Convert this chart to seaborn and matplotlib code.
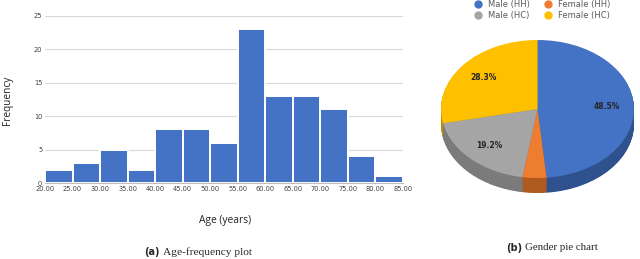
import numpy as np
import matplotlib
matplotlib.use("Agg")
import matplotlib.pyplot as plt
from matplotlib.lines import Line2D
import seaborn as sns

# Histogram data (age bins of 5 years)
bin_edges = [20, 25, 30, 35, 40, 45, 50, 55, 60, 65, 70, 75, 80, 85]
frequencies = [2, 3, 5, 2, 8, 8, 6, 23, 13, 13, 11, 4, 1]
y_ticks = [0, 5, 10, 15, 20, 25]

# Pie data
pie_labels = ["Male (HH)", "Female (HH)", "Male (HC)", "Female (HC)"]
pie_values = [48.5, 4.0, 19.2, 28.3]
pie_colors = ["#4472C4", "#ED7D31", "#A5A5A5", "#FFC000"]
side_colors = ["#2F528F", "#AE5A21", "#7B7B7B", "#BF9000"]

sns.set_style("white")

fig = plt.figure(figsize=(6.4, 2.59), dpi=100)

# ---- (a) histogram ----
ax = fig.add_axes([45 / 640, 1 - 183 / 259, 358 / 640, (183 - 15.7) / 259])
centers = [(a + b) / 2 for a, b in zip(bin_edges[:-1], bin_edges[1:])]
sns.histplot(x=centers, weights=frequencies, bins=bin_edges, color="#4472C4",
             alpha=1, edgecolor="white", linewidth=1.4, ax=ax)
ax.set_xlim(20, 85)
ax.set_ylim(0, 25)
ax.set_yticks(y_ticks)
ax.set_xticks(bin_edges)
ax.set_xticklabels([f"{v:.2f}" for v in bin_edges])
ax.tick_params(axis="both", labelsize=4.8, colors="#404040", length=0, pad=2)
ax.yaxis.grid(True, color="#d9d9d9", linewidth=0.8)
ax.set_axisbelow(True)
for s in ["top", "right", "left"]:
    ax.spines[s].set_visible(False)
ax.spines["bottom"].set_color("#bfbfbf")
ax.spines["bottom"].set_linewidth(0.8)
ax.set_xlabel("")
ax.set_ylabel("")
fig.text(8 / 640, 1 - 100 / 259, "Frequency", rotation=90, ha="center", va="center",
         fontsize=7.3, family="Open Sans", color="#222222")
fig.text(225 / 640, 1 - 220 / 259, "Age (years)", ha="center", va="center",
         fontsize=7.4, family="Open Sans", color="#222222")

# captions
fig.text(160 / 640, 1 - 252 / 259, "(a)", ha="right", va="center", fontsize=7,
         fontweight="bold", family="DejaVu Sans")
fig.text(163 / 640, 1 - 252 / 259, "Age-frequency plot", ha="left", va="center",
         fontsize=8.2, family="Liberation Serif")
fig.text(522 / 640, 1 - 248 / 259, "(b)", ha="right", va="center", fontsize=7,
         fontweight="bold", family="DejaVu Sans")
fig.text(525 / 640, 1 - 248 / 259, "Gender pie chart", ha="left", va="center",
         fontsize=7.8, family="Liberation Serif")

# ---- (b) pseudo-3D pie ----
depth = 15 / 69
pax = fig.add_axes([441 / 640, 1 - 193 / 259, 193 / 640, 69 * (2 + depth) / 259])
for off in np.linspace(depth, 0.01, 30):
    pax.pie(pie_values, colors=side_colors, startangle=90, counterclock=False,
            radius=1, center=(0, -off), wedgeprops=dict(linewidth=0))
pax.pie(pie_values, colors=pie_colors, startangle=90, counterclock=False,
        radius=1, center=(0, 0), wedgeprops=dict(linewidth=0),
        autopct=lambda p: f"{p:.1f}%" if p > 10 else "", pctdistance=0.72,
        textprops=dict(fontsize=5.5, fontweight="bold", color="#262626"))
pax.set_aspect("auto")
pax.set_xlim(-1, 1)
pax.set_ylim(-1 - depth, 1)
pax.axis("off")

handles = [Line2D([], [], marker="o", linestyle="", markersize=5, color=c) for c in pie_colors]
order = [0, 2, 1, 3]
fig.legend([handles[i] for i in order], [pie_labels[i] for i in order],
           loc="upper center", bbox_to_anchor=(540 / 640, 1.02), ncol=2, frameon=False,
           fontsize=6, labelcolor="#595959", handletextpad=0.2, columnspacing=1.2,
           labelspacing=0.25, borderpad=0.1)

fig.savefig("out.png", dpi=100)
